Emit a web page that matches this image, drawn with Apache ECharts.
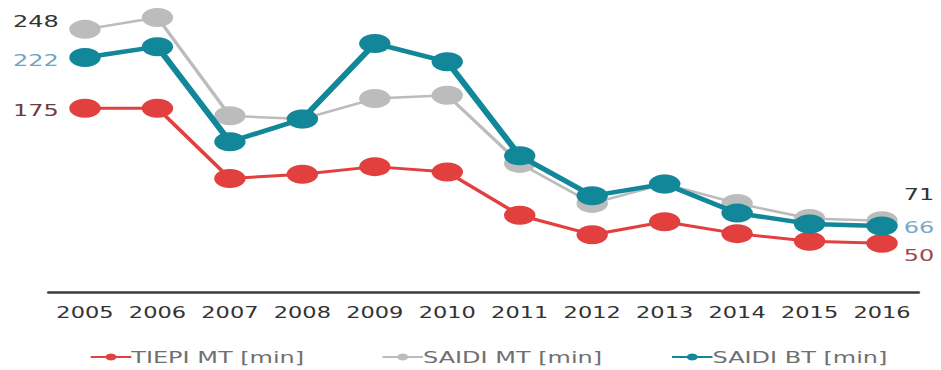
<!DOCTYPE html>
<html>
<head>
<meta charset="utf-8">
<script src="https://cdn.jsdelivr.net/npm/echarts@6/dist/echarts.min.js"></script>
<style>
  html, body { margin: 0; padding: 0; background: #fff; overflow: hidden; }
  /* the chart is laid out narrow and stretched horizontally for its wide look */
  #chart { width: 627.33px; height: 370px; transform: scaleX(1.5); transform-origin: 0 0; }
</style>
</head>
<body>
<div id="chart"></div>
<script>
const years = ['2005', '2006', '2007', '2008', '2009', '2010', '2011', '2012', '2013', '2014', '2015', '2016'];
const tiepiMT = [175, 175, 110, 114, 121, 116, 76, 58, 70, 59, 52, 50];
const saidiMT = [248, 259, 168, 165, 184, 187, 124, 87, 105, 87, 73, 71];
const saidiBT = [222, 232, 144, 165, 235, 218, 131, 94, 105, 78, 68, 66];
const seriesNames = ['TIEPI MT [min]', 'SAIDI MT [min]', 'SAIDI BT [min]'];

const RED = '#e2403f';
const GRAY = '#bcbcbc';
const TEAL = '#13879a';
const FONT = 'DejaVu Sans';

// value labels on the first and last points of a series
function withEndLabels(values, startLabel, endLabel) {
  return values.map((v, i) => {
    if (i === 0) return { value: v, label: Object.assign({ show: true, position: 'left', distance: 7 }, startLabel) };
    if (i === values.length - 1) return { value: v, label: Object.assign({ show: true, position: 'right', distance: 4 }, endLabel) };
    return v;
  });
}

function lineSeries(name, values, color, width, startLabel, endLabel, z) {
  return {
    name: name,
    type: 'line',
    z: z,
    data: withEndLabels(values, startLabel, endLabel),
    symbol: 'circle',
    symbolSize: [21, 19],
    showAllSymbol: true,
    lineStyle: { color: color, width: width },
    itemStyle: { color: color },
    label: { fontFamily: FONT, fontSize: 16, formatter: '{c}' },
    emphasis: { disabled: true },
    animation: false
  };
}

const chart = echarts.init(document.getElementById('chart'), null, { renderer: 'svg' });

const legendBase = {
  top: 344,
  itemWidth: 27,
  itemHeight: 9,
  itemGap: 2,
  textStyle: { fontFamily: FONT, fontSize: 16, color: '#707070', padding: [0, 0, 0, -5] },
  selectedMode: false
};

chart.setOption({
  backgroundColor: '#fff',
  grid: { left: 32.5, right: 14.83, top: 11, bottom: 78, containLabel: false },
  xAxis: {
    type: 'category',
    data: years,
    boundaryGap: true,
    axisLine: { lineStyle: { color: '#3c3c3c', width: 2.5 } },
    axisTick: { show: false },
    axisLabel: { fontFamily: FONT, fontSize: 15, color: '#333', margin: 13, interval: 0 },
    splitLine: { show: false }
  },
  yAxis: {
    type: 'value',
    min: 5,
    max: 265,
    show: false,
    splitLine: { show: false }
  },
  legend: [
    Object.assign({ left: 54.5, data: [seriesNames[0]] }, legendBase),
    Object.assign({ left: 249, data: [seriesNames[1]] }, legendBase),
    Object.assign({ left: 442, data: [seriesNames[2]] }, legendBase)
  ],
  series: [
    lineSeries(seriesNames[0], tiepiMT, RED, 3,
      { color: '#6e3c40', offset: [0, 2] },
      { color: '#9a4b4e', offset: [0, 12] }, 2),
    lineSeries(seriesNames[1], saidiMT, GRAY, 2.5,
      { color: '#333', offset: [0, -8] },
      { color: '#333', offset: [0, -26] }, 3),
    lineSeries(seriesNames[2], saidiBT, TEAL, 4.5,
      { color: '#6fa3bf', offset: [0, 3] },
      { color: '#79a9c4', offset: [0, 1] }, 4)
  ]
});
</script>
</body>
</html>
